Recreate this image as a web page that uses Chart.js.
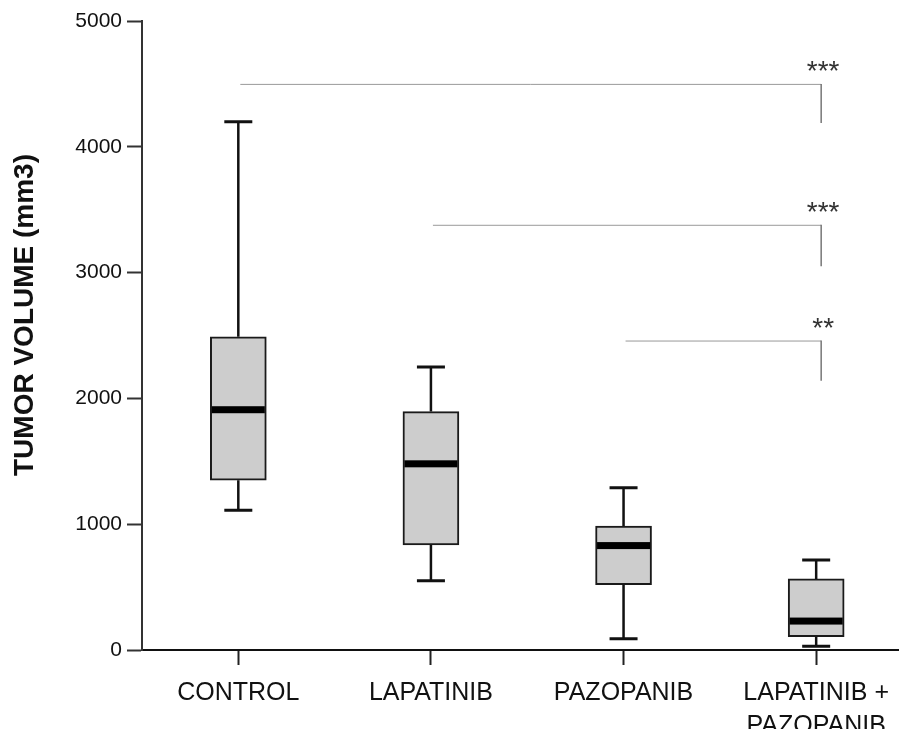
<!DOCTYPE html>
<html>
<head>
<meta charset="utf-8">
<script src="https://cdn.jsdelivr.net/npm/chart.js@4"></script>
<style>
  body { margin: 0; background: #fff; }
</style>
</head>
<body>
<canvas id="tumorChart" width="901" height="729"></canvas>
<script>
// DATA
const groups = ["CONTROL", "LAPATINIB", "PAZOPANIB", ["LAPATINIB +", "PAZOPANIB"]];
const whiskerLow = [1110, 550, 90, 30];
const q1 = [1350, 835, 520, 105];
const median = [1910, 1480, 830, 230];
const q3 = [2490, 1895, 985, 565];
const whiskerHigh = [4200, 2250, 1290, 715];
const yTicks = [0, 1000, 2000, 3000, 4000, 5000];

// significance brackets (all against the combination group)
const bracketFrom = [1, 2, 3];
const bracketTo = [4, 4, 4];
const bracketLevel = [4500, 3380, 2460];
const bracketDrop = [4190, 3050, 2140];
const bracketText = ["***", "***", "**"];

// whiskers, medians, brackets and y title drawn on top of the floating bars
const boxExtras = {
  id: "boxExtras",
  afterDatasetsDraw(chart) {
    const { ctx, scales: { x, y } } = chart;
    const half = 28, cap = 14;
    ctx.save();

    groups.forEach((g, i) => {
      const cx = x.getPixelForValue(i + 1);
      ctx.strokeStyle = "#111";
      ctx.lineWidth = 2.5;
      ctx.beginPath();
      ctx.moveTo(cx, y.getPixelForValue(q3[i]));
      ctx.lineTo(cx, y.getPixelForValue(whiskerHigh[i]));
      ctx.moveTo(cx, y.getPixelForValue(q1[i]));
      ctx.lineTo(cx, y.getPixelForValue(whiskerLow[i]));
      ctx.stroke();

      ctx.lineWidth = 3;
      ctx.beginPath();
      ctx.moveTo(cx - cap, y.getPixelForValue(whiskerHigh[i]));
      ctx.lineTo(cx + cap, y.getPixelForValue(whiskerHigh[i]));
      ctx.moveTo(cx - cap, y.getPixelForValue(whiskerLow[i]));
      ctx.lineTo(cx + cap, y.getPixelForValue(whiskerLow[i]));
      ctx.stroke();

      ctx.fillStyle = "#000";
      ctx.fillRect(cx - half + 1.5, y.getPixelForValue(median[i]) - 3.5, 2 * half - 3, 7);
    });

    bracketFrom.forEach((from, i) => {
      const x0 = x.getPixelForValue(from) + 2;
      const x1 = x.getPixelForValue(bracketTo[i]) + 5;
      const yl = y.getPixelForValue(bracketLevel[i]);
      const yd = y.getPixelForValue(bracketDrop[i]);
      ctx.strokeStyle = "#999";
      ctx.lineWidth = 1;
      ctx.beginPath();
      ctx.moveTo(x0, yl + 0.5);
      ctx.lineTo(x1, yl + 0.5);
      ctx.stroke();
      ctx.strokeStyle = "#777";
      ctx.lineWidth = 1.5;
      ctx.beginPath();
      ctx.moveTo(x1, yl);
      ctx.lineTo(x1, yd);
      ctx.stroke();

      ctx.fillStyle = "#333";
      ctx.font = "28px 'Liberation Sans', Arial, sans-serif";
      ctx.textAlign = "center";
      ctx.textBaseline = "alphabetic";
      ctx.fillText(bracketText[i], x1 + 2, yl - 4);
    });

    ctx.translate(25, 315);
    ctx.rotate(-Math.PI / 2);
    ctx.fillStyle = "#111";
    ctx.font = "bold 28px 'Liberation Sans', Arial, sans-serif";
    ctx.textAlign = "center";
    ctx.textBaseline = "middle";
    ctx.fillText("TUMOR VOLUME (mm3)", 0, 0);
    ctx.restore();
  }
};

new Chart(document.getElementById("tumorChart"), {
  type: "bar",
  data: {
    datasets: [{
      data: groups.map((g, i) => ({ x: i + 1, y: [q1[i], q3[i]] })),
      backgroundColor: "#cdcdcd",
      borderColor: "#1a1a1a",
      borderWidth: 2,
      borderSkipped: false,
      barThickness: 56
    }]
  },
  options: {
    responsive: false,
    animation: false,
    layout: { padding: { top: 21, right: 0, left: 0, bottom: 0 }, autoPadding: false },
    plugins: {
      legend: { display: false },
      tooltip: { enabled: false }
    },
    scales: {
      x: {
        type: "linear",
        offset: false,
        min: 0.5,
        max: 4.43,
        afterBuildTicks: axis => { axis.ticks = groups.map((g, i) => ({ value: i + 1 })); },
        afterFit: axis => { axis.height = 79; },
        grid: { offset: false, drawOnChartArea: false, tickLength: 15, tickWidth: 2, tickColor: "#222" },
        border: { color: "#111", width: 2 },
        ticks: {
          padding: 12,
          color: "#111",
          font: { family: "'Liberation Sans', Arial, sans-serif", size: 25, lineHeight: 1.3 },
          callback: v => groups[v - 1]
        }
      },
      y: {
        min: 0,
        max: 5000,
        afterBuildTicks: axis => { axis.ticks = yTicks.map(v => ({ value: v })); },
        afterFit: axis => { axis.width = 142; },
        grid: { drawOnChartArea: false, tickLength: 15, tickWidth: 2, tickColor: "#333" },
        border: { color: "#333", width: 2 },
        ticks: {
          padding: 5,
          color: "#111",
          font: { family: "'Liberation Sans', Arial, sans-serif", size: 21 },
          callback: v => String(v)
        }
      }
    }
  },
  plugins: [boxExtras]
});
</script>
</body>
</html>
